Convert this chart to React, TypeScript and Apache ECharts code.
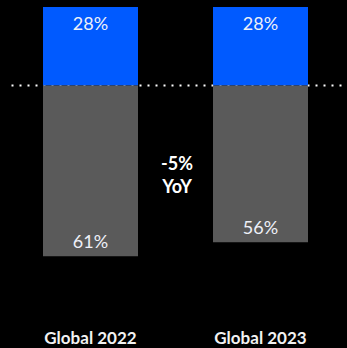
import React, { useEffect, useRef } from "react";
import * as echarts from "echarts";

const categories = ["Global 2022", "Global 2023"];
const topValues = [28, 28];
const bottomValues = [61, 56];
const changeLabel = ["-5%", "YoY"];

export default function App() {
  const ref = useRef<HTMLDivElement>(null);
  useEffect(() => {
    if (!ref.current) return;
    const chart = echarts.init(ref.current, undefined, { renderer: "svg" });
    const font = "Lato, 'Open Sans', sans-serif";
    chart.setOption({
      animation: false,
      backgroundColor: "#000000",
      grid: { left: 5.5, right: 1.5, top: 7, bottom: 61 },
      xAxis: {
        type: "category",
        data: categories,
        axisLine: { show: false, onZero: false },
        axisTick: { show: false },
        axisLabel: {
          margin: 42,
          color: "#f2f2f2",
          fontWeight: "bold",
          fontSize: 17,
          fontFamily: font,
        },
      },
      yAxis: {
        type: "value",
        min: -72,
        max: 28,
        show: false,
      },
      series: [
        {
          type: "bar",
          stack: "s",
          barWidth: 95,
          data: topValues,
          itemStyle: { color: "#005AFF" },
          label: {
            show: true,
            position: "insideTop",
            distance: 7,
            color: "#eef0f8",
            fontSize: 18,
            fontFamily: font,
            formatter: (p: any) => `${Math.abs(p.value)}%`,
          },
        },
        {
          type: "bar",
          stack: "s",
          barWidth: 95,
          data: bottomValues.map((v) => -v),
          itemStyle: { color: "#5a5a5a" },
          label: {
            show: true,
            position: "insideBottom",
            distance: 6,
            color: "#eef0f8",
            fontSize: 18,
            fontFamily: font,
            formatter: (p: any) => `${Math.abs(p.value)}%`,
          },
        },
      ],
    });
    const yZero = chart.convertToPixel({ yAxisIndex: 0 }, 0) as number;
    const x0 = chart.convertToPixel({ xAxisIndex: 0 }, categories[0]) as number;
    const x1 = chart.convertToPixel({ xAxisIndex: 0 }, categories[1]) as number;
    const cx = (x0 + x1) / 2 + 1.5;
    chart.setOption({
      graphic: [
        {
          type: "line",
          silent: true,
          shape: { x1: 11.5, y1: yZero, x2: 345, y2: yZero },
          style: { stroke: "#ffffff", lineWidth: 2, lineDash: [2, 6], lineCap: "butt" },
        },
        {
          type: "text",
          x: cx,
          y: 163,
          style: {
            text: changeLabel[0],
            fill: "#ffffff",
            font: `bold 18px ${font}`,
            align: "center",
            verticalAlign: "middle",
          },
        },
        {
          type: "text",
          x: cx,
          y: 185.5,
          style: {
            text: changeLabel[1],
            fill: "#ffffff",
            font: `bold 18px ${font}`,
            align: "center",
            verticalAlign: "middle",
          },
        },
      ],
    });
    return () => chart.dispose();
  }, []);
  return <div ref={ref} style={{ width: 347, height: 348, position: "absolute", left: 0, top: 0 }} />;
}
